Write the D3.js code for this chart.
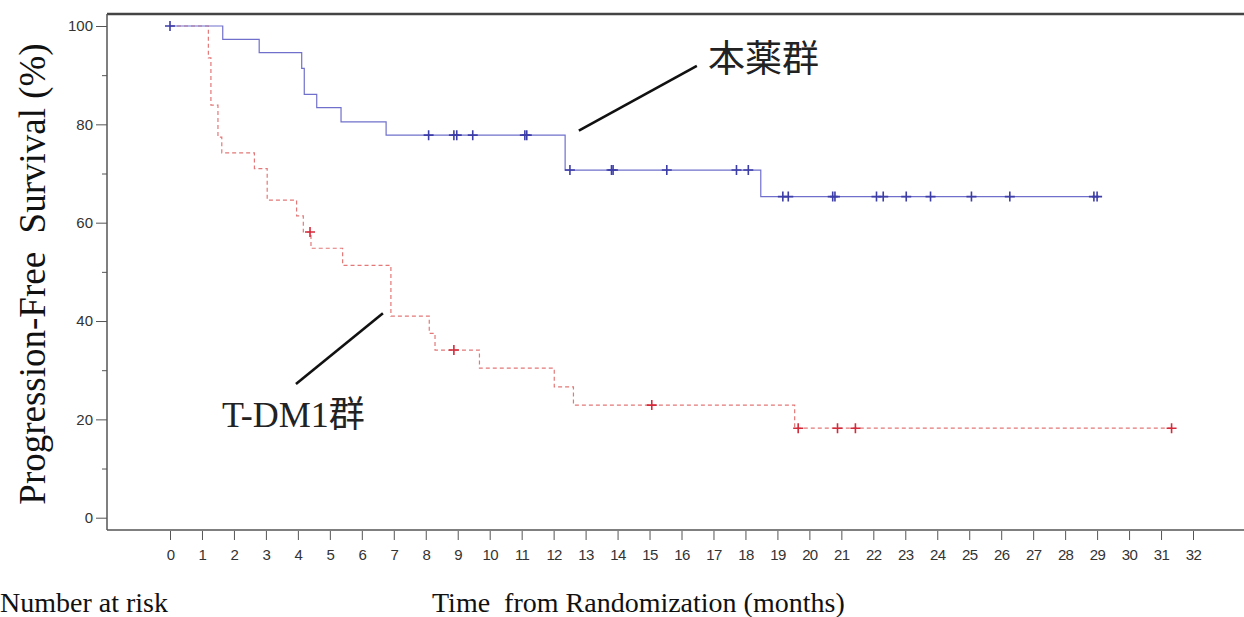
<!DOCTYPE html>
<html lang="ja">
<head>
  <meta charset="UTF-8">
  <title>PFS Kaplan-Meier</title>
  <script src="https://cdn.jsdelivr.net/npm/d3@7"></script>
  <style>
    body { margin: 0; background: #fff; }
    .tick text { font-family: "Liberation Sans", Arial, sans-serif; fill: #333; }
    .tick line { stroke: #555; }
  </style>
</head>
<body>
  <svg id="chart" width="1244" height="617"></svg>

  <script>
    // Kaplan-Meier steps (months, %)
    const blueTimes = [0, 1.65, 2.79, 4.12, 4.20, 4.59, 5.35, 6.76, 12.36, 18.48, 29.0];
    const blueSurv  = [100, 97.3, 94.6, 91.4, 86.1, 83.4, 80.5, 77.8, 70.7, 65.3, 65.3];
    const blueCensor = [0, 8.09, 8.88, 8.97, 9.47, 11.10, 11.16, 12.51, 13.81, 13.86, 15.54,
                        17.72, 18.09, 19.17, 19.34, 20.73, 20.80, 22.10, 22.31, 23.03, 23.79,
                        25.07, 26.27, 28.90, 29.0];

    const redTimes = [0, 1.20, 1.28, 1.50, 1.62, 2.64, 3.04, 3.96, 4.17, 4.41, 5.40, 6.91,
                      8.11, 8.29, 9.68, 12.02, 12.62, 19.54, 31.33];
    const redSurv  = [100, 93.5, 83.9, 77.4, 74.2, 71.0, 64.6, 61.4, 58.1, 54.8, 51.3, 41.0,
                      37.5, 34.1, 30.4, 26.6, 22.9, 18.2, 18.2];
    const redCensor = [4.38, 8.88, 15.07, 19.65, 20.88, 21.44, 31.33];

    const xTicks = d3.range(0, 33);
    const yMajor = [0, 20, 40, 60, 80, 100];
    const yMinor = [10, 30, 50, 70, 90];

    const svg = d3.select("#chart");
    const w = 1244, h = 617;
    const frameLeft = 107, frameTop = 14, frameBottom = 530;

    const x = d3.scaleLinear().domain([0, 32]).range([170, 1193]);
    const y = d3.scaleLinear().domain([0, 100]).range([517.7, 26]);

    svg.append("rect").attr("width", w).attr("height", h).attr("fill", "#fff");

    // frame: heavy top rule, left and bottom axis lines
    svg.append("line").attr("x1", frameLeft).attr("x2", w).attr("y1", frameTop).attr("y2", frameTop)
      .attr("stroke", "#444").attr("stroke-width", 2.5);
    svg.append("line").attr("x1", frameLeft).attr("x2", frameLeft).attr("y1", frameTop).attr("y2", frameBottom)
      .attr("stroke", "#555").attr("stroke-width", 1.5);
    svg.append("line").attr("x1", frameLeft).attr("x2", w).attr("y1", frameBottom).attr("y2", frameBottom)
      .attr("stroke", "#555").attr("stroke-width", 1.5);

    // axes
    const yAxis = svg.append("g").attr("transform", "translate(" + frameLeft + ",0)")
      .call(d3.axisLeft(y).tickValues(yMajor).tickSize(11).tickPadding(3));
    yAxis.select(".domain").remove();
    yAxis.selectAll("text").style("font-size", "15px");

    const yAxisMinor = svg.append("g").attr("transform", "translate(" + frameLeft + ",0)")
      .call(d3.axisLeft(y).tickValues(yMinor).tickSize(5).tickFormat(""));
    yAxisMinor.select(".domain").remove();

    const xAxis = svg.append("g").attr("transform", "translate(0," + (frameBottom + 1) + ")")
      .call(d3.axisBottom(x).tickValues(xTicks).tickSize(9).tickPadding(9));
    xAxis.select(".domain").remove();
    xAxis.selectAll("text").style("font-size", "15px").style("letter-spacing", "-0.6px");

    // survival curves
    const line = d3.line().x(d => x(d[0])).y(d => y(d[1])).curve(d3.curveStepAfter);
    const survAt = (times, surv, t) => surv[d3.bisectRight(times, t) - 1];

    svg.append("path")
      .datum(redTimes.map((t, i) => [t, redSurv[i]]))
      .attr("d", line)
      .attr("fill", "none")
      .attr("stroke", "#e47878")
      .attr("stroke-width", 1.2)
      .attr("stroke-dasharray", "4,3");

    svg.append("path")
      .datum(blueTimes.map((t, i) => [t, blueSurv[i]]))
      .attr("d", line)
      .attr("fill", "none")
      .attr("stroke", "#7070cc")
      .attr("stroke-width", 1.2);

    const cross = (g, t, s, color) => {
      const cx = x(t), cy = y(s);
      g.append("path")
        .attr("d", `M${cx - 5},${cy}H${cx + 5}M${cx},${cy - 5}V${cy + 5}`)
        .attr("stroke", color).attr("stroke-width", 1.6).attr("fill", "none");
    };
    const marks = svg.append("g");
    redCensor.forEach(t => cross(marks, t, survAt(redTimes, redSurv, t), "#d42a3a"));
    blueCensor.forEach(t => cross(marks, t, survAt(blueTimes, blueSurv, t), "#3d3da8"));

    // group labels with leader lines (data coordinates)
    const labels = [
      { text: "本薬群", tx: 16.83, ty: 90.6, size: 37, x1: 12.79, y1: 78.7, x2: 16.48, y2: 91.9 },
      { text: "T-DM1群", tx: 1.63, ty: 18.4, size: 36, x1: 3.94, y1: 27.2, x2: 6.66, y2: 41.6 }
    ];
    labels.forEach(d => {
      svg.append("line")
        .attr("x1", x(d.x1)).attr("y1", y(d.y1)).attr("x2", x(d.x2)).attr("y2", y(d.y2))
        .attr("stroke", "#111").attr("stroke-width", 2.6);
      svg.append("text")
        .attr("x", x(d.tx)).attr("y", y(d.ty))
        .attr("font-family", "'Liberation Serif', 'Noto Sans CJK JP', serif")
        .attr("font-size", d.size)
        .attr("fill", "#222")
        .text(d.text);
    });

    // axis titles
    svg.append("text")
      .attr("transform", "translate(45,274) rotate(-90)")
      .attr("text-anchor", "middle")
      .attr("font-family", "'Liberation Serif', 'Times New Roman', serif")
      .attr("font-size", 37)
      .attr("fill", "#111")
      .attr("xml:space", "preserve")
      .text("Progression-Free  Survival (%)");

    svg.append("text")
      .attr("x", 432).attr("y", 612)
      .attr("font-family", "'Liberation Serif', 'Times New Roman', serif")
      .attr("font-size", 28)
      .attr("fill", "#111")
      .attr("xml:space", "preserve")
      .text("Time  from Randomization (months)");

    svg.append("text")
      .attr("x", 0).attr("y", 612)
      .attr("font-family", "'Liberation Serif', 'Times New Roman', serif")
      .attr("font-size", 28)
      .attr("fill", "#111")
      .text("Number at risk");
  </script>
</body>
</html>
